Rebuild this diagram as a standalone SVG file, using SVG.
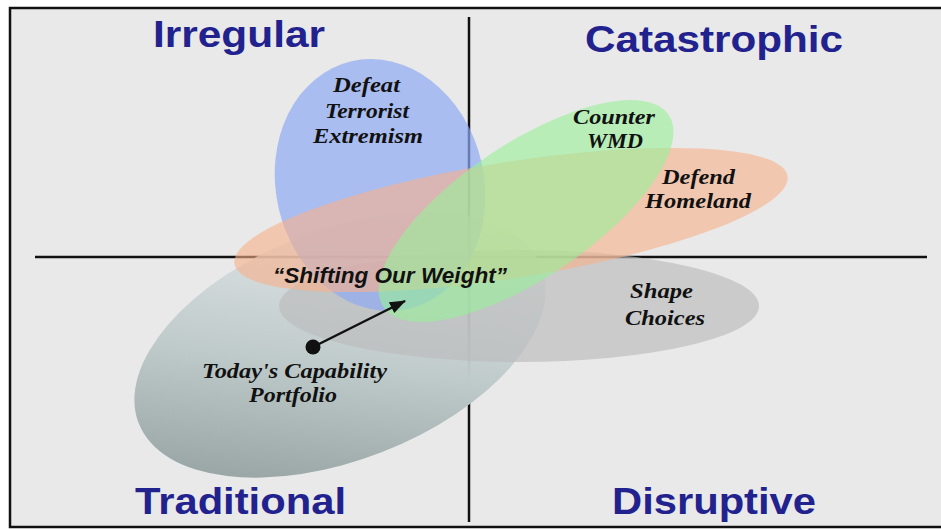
<svg xmlns="http://www.w3.org/2000/svg" width="941" height="529" viewBox="0 0 941 529">
<style>
.title{font-family:"Liberation Sans",Arial,sans-serif;font-weight:bold;font-size:36px;fill:#22228f}
.lbl{font-family:"Liberation Serif","Times New Roman",serif;font-weight:bold;font-style:italic;font-size:21px;fill:#111}
.conlbl{font-family:"Liberation Sans",Arial,sans-serif;font-weight:bold;font-style:italic;font-size:22px;fill:#111}
.axis{stroke:#111;stroke-width:2.5;fill:none}
.blob{stroke:none}
</style>
<defs>
<linearGradient id="gTrad" x1="0" y1="1" x2="1" y2="0">
<stop offset="0" stop-color="#899595"/>
<stop offset="0.45" stop-color="#bfcaca"/>
<stop offset="1" stop-color="#e4eaec" stop-opacity="0.5"/>
</linearGradient>
<marker id="arr" markerWidth="16" markerHeight="12" refX="15" refY="6" orient="auto" markerUnits="userSpaceOnUse">
<path d="M0,0 L16,6 L0,12 z" fill="#111"/>
</marker>
</defs>
<rect x="0" y="0" width="941" height="529" fill="#ffffff"/>
<rect x="10" y="8" width="940" height="519" fill="#e9e9e9" stroke="#111" stroke-width="2.5"/>
<g id="axes">
<line class="axis" x1="35" y1="257" x2="927" y2="257"/>
<line class="axis" x1="469" y1="17" x2="469" y2="522"/>
</g>
<g id="quadrant-titles">
<text class="title" x="153" y="47" textLength="172" lengthAdjust="spacingAndGlyphs" fill="#14148a">Irregular</text>
<text class="title" x="585" y="52" textLength="258" lengthAdjust="spacingAndGlyphs">Catastrophic</text>
<text class="title" x="135" y="514" textLength="211" lengthAdjust="spacingAndGlyphs">Traditional</text>
<text class="title" x="612" y="514" textLength="204" lengthAdjust="spacingAndGlyphs">Disruptive</text>
</g>
<g id="node-today">
<ellipse class="blob" cx="340" cy="345" rx="216" ry="115" transform="rotate(-21.2 340 345)" fill="url(#gTrad)"/>
<text class="lbl" x="202" y="378" textLength="185" lengthAdjust="spacingAndGlyphs">Today's Capability</text>
<text class="lbl" x="249" y="402" textLength="88" lengthAdjust="spacingAndGlyphs">Portfolio</text>
</g>
<g id="node-shape">
<ellipse class="blob" cx="519" cy="306" rx="240" ry="56" fill="#bcbcbc" opacity="0.65"/>
<text class="lbl" x="630" y="298" textLength="63" lengthAdjust="spacingAndGlyphs">Shape</text>
<text class="lbl" x="625" y="325" textLength="80" lengthAdjust="spacingAndGlyphs">Choices</text>
</g>
<g id="node-terror">
<ellipse class="blob" cx="380" cy="185" rx="104" ry="127" transform="rotate(-13 380 185)" fill="#8fa9f2" opacity="0.7"/>
<text class="lbl" x="333" y="92" textLength="67" lengthAdjust="spacingAndGlyphs">Defeat</text>
<text class="lbl" x="325" y="118" textLength="84" lengthAdjust="spacingAndGlyphs">Terrorist</text>
<text class="lbl" x="313" y="143" textLength="110" lengthAdjust="spacingAndGlyphs">Extremism</text>
</g>
<g id="node-homeland">
<ellipse class="blob" cx="511" cy="220" rx="280" ry="58" transform="rotate(-9 511 220)" fill="#f8b08a" opacity="0.6"/>
<text class="lbl" x="662" y="184" textLength="73" lengthAdjust="spacingAndGlyphs">Defend</text>
<text class="lbl" x="645" y="208" textLength="106" lengthAdjust="spacingAndGlyphs">Homeland</text>
</g>
<g id="node-wmd">
<ellipse class="blob" cx="526" cy="211" rx="172" ry="67" transform="rotate(-34 526 211)" fill="#98f098" opacity="0.6"/>
<text class="lbl" x="573" y="124" textLength="82" lengthAdjust="spacingAndGlyphs">Counter</text>
<text class="lbl" x="587" y="148" textLength="56" lengthAdjust="spacingAndGlyphs">WMD</text>
</g>
<g id="connectors">
<circle cx="313" cy="347" r="7.5" fill="#111"/>
<line x1="313" y1="347" x2="405" y2="301" stroke="#111" stroke-width="2.5" marker-end="url(#arr)"/>
<text class="conlbl" x="273" y="283" textLength="234" lengthAdjust="spacingAndGlyphs">“Shifting Our Weight”</text>
</g>
</svg>
